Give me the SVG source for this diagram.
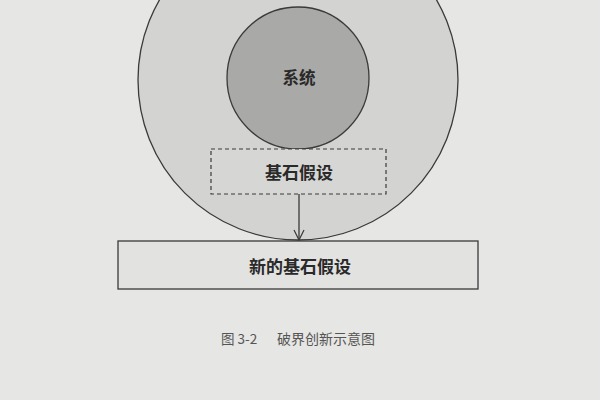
<svg xmlns="http://www.w3.org/2000/svg" width="600" height="400" viewBox="0 0 600 400">
<defs>
<style>
.t{font-family:"Noto Sans CJK SC","Liberation Sans",sans-serif;fill:#2a2a2a;text-anchor:middle;dominant-baseline:central}
.ln{stroke:#3a3a3a;stroke-width:1.3;fill:none}
</style>
<marker id="ah" viewBox="0 0 12 12" refX="11" refY="6" markerWidth="12" markerHeight="12" markerUnits="userSpaceOnUse" orient="auto">
<path d="M1,1 L11,6 L1,11" fill="none" stroke="#3a3a3a" stroke-width="1.2"/>
</marker>
</defs>
<rect width="600" height="400" fill="#e6e6e4"/>
<g id="outer">
<circle cx="298" cy="80" r="160" fill="#d3d3d1" class="ln" style="fill:#d3d3d1"/>
</g>
<g id="system">
<circle cx="298" cy="78" r="71" fill="#a9a9a7" stroke="#3a3a3a" stroke-width="1.3"/>
<text class="t" x="299" y="77" font-size="16.5" font-weight="bold">系统</text>
</g>
<g id="assumption">
<rect x="211" y="149" width="175" height="45" fill="#d6d6d4" stroke="#3a3a3a" stroke-width="1.2" stroke-dasharray="4,3"/>
<text class="t" x="299" y="171" font-size="17" font-weight="bold">基石假设</text>
</g>
<g id="connectors">
<line x1="299" y1="194" x2="299" y2="240" class="ln" marker-end="url(#ah)"/>
</g>
<g id="new-assumption">
<rect x="118" y="241" width="360" height="48" fill="#e2e2e0" stroke="#3a3a3a" stroke-width="1.3"/>
<text class="t" x="300" y="265" font-size="17" font-weight="bold">新的基石假设</text>
</g>
<g id="caption">
<text x="221" y="338" font-size="13.5" style="font-family:'Noto Sans CJK SC','Liberation Sans',sans-serif;fill:#555;dominant-baseline:central">图 3-2</text>
<text x="277" y="338" font-size="14" style="font-family:'Noto Sans CJK SC','Liberation Sans',sans-serif;fill:#555;dominant-baseline:central">破界创新示意图</text>
</g>
</svg>
